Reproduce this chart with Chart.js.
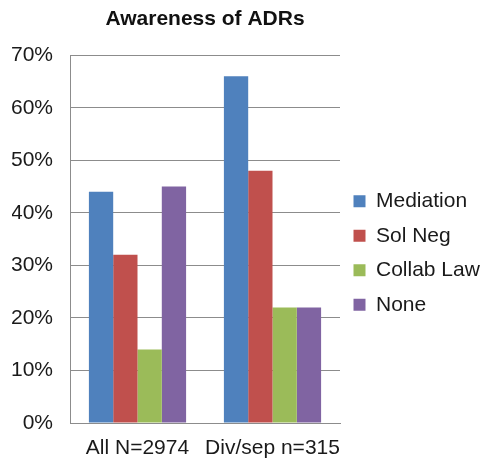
<!DOCTYPE html>
<html>
<head>
<meta charset="utf-8">
<script src="https://cdn.jsdelivr.net/npm/chart.js@4.4.1/dist/chart.umd.min.js"></script>
<style>
  html, body { margin: 0; padding: 0; background: #fff; }
  #wrap { width: 482px; height: 461px; }
</style>
</head>
<body>
<div id="wrap"><canvas id="c" width="482" height="461"></canvas></div>
<script>
// Groups and series
const categories = ['All N=2974', 'Div/sep n=315'];
const mediation = [44, 66];
const solNeg = [32, 48];
const collabLaw = [14, 22];
const none = [45, 22];
const yTicks = [0, 10, 20, 30, 40, 50, 60, 70];

const FONT = '"Liberation Sans", Arial, Helvetica, sans-serif';

function makeSet(label, data, color) {
    return {
        label: label,
        data: data,
        backgroundColor: color,
        borderWidth: 0,
        barPercentage: 1.0,
        categoryPercentage: 0.72
    };
}

new Chart(document.getElementById('c').getContext('2d'), {
    type: 'bar',
    data: {
        labels: categories,
        datasets: [
            makeSet('Mediation', mediation, '#4F81BD'),
            makeSet('Sol Neg', solNeg, '#C0504D'),
            makeSet('Collab Law', collabLaw, '#9BBB59'),
            makeSet('None', none, '#8064A2')
        ]
    },
    options: {
        responsive: false,
        animation: false,
        layout: { padding: { left: 12, right: 0, top: 0, bottom: 0 } },
        scales: {
            x: {
                grid: { display: false, drawTicks: false },
                border: { color: '#8c8c8c' },
                ticks: {
                    color: '#1a1a1a',
                    font: { family: FONT, size: 21 },
                    padding: 13,
                    maxRotation: 0,
                    minRotation: 0,
                    autoSkip: false
                },
                // chart.js pads labels on both sides; keep only the gap above them
                afterFit: axis => { axis.height = 38; }
            },
            y: {
                min: 0,
                max: 70,
                afterBuildTicks: function (axis) {
                    axis.ticks = yTicks.map(v => ({ value: v }));
                },
                afterFit: axis => { axis.width = 58; },
                grid: { color: '#8c8c8c', drawTicks: false },
                border: { color: '#8c8c8c' },
                ticks: {
                    color: '#1a1a1a',
                    font: { family: FONT, size: 21 },
                    padding: 17,
                    callback: v => v + '%'
                }
            }
        },
        plugins: {
            title: {
                display: true,
                text: 'Awareness of ADRs',
                fullSize: false,
                color: '#111',
                font: { family: FONT, size: 21, weight: 'bold' },
                padding: { top: 7, bottom: 23 }
            },
            legend: {
                position: 'right',
                maxWidth: 142,
                title: {
                    display: true,
                    text: ' ',
                    font: { size: 10 },
                    padding: { top: 33, bottom: 0 }
                },
                labels: {
                    color: '#1a1a1a',
                    font: { family: FONT, size: 21 },
                    boxWidth: 12,
                    boxHeight: 12,
                    padding: 13.5
                }
            },
            tooltip: { enabled: false }
        }
    }
});
</script>
</body>
</html>
